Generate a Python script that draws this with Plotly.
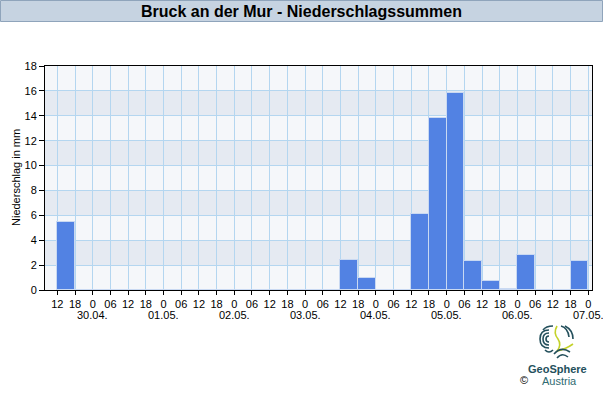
import plotly.graph_objects as go

# ---- data ----
hour_labels = ["12", "18"] + ["0", "06", "12", "18"] * 7 + ["0"]
date_labels = ["30.04.", "01.05.", "02.05.", "03.05.", "04.05.", "05.05.", "06.05.", "07.05."]
precip_mm = [5.5, 0, 0, 0, 0, 0, 0, 0, 0, 0, 0, 0, 0, 0, 0, 0,
             2.4, 0.95, 0, 0, 6.1, 13.8, 15.8, 2.3, 0.7, 0.1, 2.8, 0, 0, 2.3]
y_ticks = list(range(0, 19, 2))
title_text = "Bruck an der Mur - Niederschlagssummen"
y_title = "Niederschlag in mm"

tickvals = list(range(len(hour_labels)))
date_positions = [i for i, lab in enumerate(hour_labels) if lab == "0"]
bar_x = [i + 0.5 for i in range(len(precip_mm))]

W, H = 603, 400
L, R, T, B = 45, 11, 66, 110
pw, ph = W - L - R, H - T - B


def px(x):
    return (x - L) / pw


def py(y):
    return (H - B - y) / ph


FONT = "Liberation Sans, Arial, sans-serif"

fig = go.Figure()
fig.add_trace(go.Bar(
    x=bar_x, y=precip_mm, width=1,
    marker=dict(color="#5282E3", line=dict(color="#C9D9F2", width=1)),
    hoverinfo="y",
))

shapes = []
for lo in (2, 6, 10, 14):
    shapes.append(dict(type="rect", xref="paper", yref="y", x0=0, x1=1, y0=lo, y1=lo + 2,
                       fillcolor="#E5EAF2", line=dict(width=0), layer="below"))
shapes.append(dict(type="rect", xref="paper", yref="paper", x0=px(0.5), x1=px(602.5),
                   y0=py(21.5), y1=py(0.5), fillcolor="#C6D3E1",
                   line=dict(color="#8FA4BB", width=1), layer="above"))


def path_px(points_cmd):
    out = []
    for tok in points_cmd:
        if isinstance(tok, str):
            out.append(tok)
        else:
            out.append(f"{px(tok[0]):.5f},{py(tok[1]):.5f}")
    return " ".join(out)


dark = "#24505C"
lime = "#C4D22A"
logo_paths = [
    (["M", (549, 330), "Q", (540, 330), (540, 339), "Q", (540, 348), (549, 348)], dark),
    (["M", (549, 333), "Q", (543, 333), (543, 339), "Q", (543, 345), (549, 345)], dark),
    (["M", (549, 336), "Q", (546, 336), (546, 339), "Q", (546, 342), (549, 342)], dark),
    (["M", (553, 326), "Q", (546, 326), (543, 330)], dark),
    (["M", (557, 326), "Q", (553, 333), (558, 339), "Q", (562, 345), (557, 351)], lime),
    (["M", (557, 351), "Q", (566, 349), (573, 344)], lime),
    (["M", (561, 326), "Q", (568, 328), (569, 337)], dark),
    (["M", (565, 326), "Q", (573, 330), (573, 339)], dark),
    (["M", (554, 354), "Q", (561, 346), (570, 352)], dark),
    (["M", (557, 358), "Q", (562, 352), (568, 357)], dark),
    (["M", (545, 350), "Q", (549, 354), (553, 350)], dark),
]
for pts, col in logo_paths:
    shapes.append(dict(type="path", xref="paper", yref="paper", path=path_px(pts),
                       line=dict(color=col, width=1.6), layer="above"))

annotations = [
    dict(text="<b>" + title_text + "</b>", x=px(301), y=py(11.5), xref="paper", yref="paper",
         showarrow=False, font=dict(family=FONT, size=16, color="#000000"),
         xanchor="center", yanchor="middle"),
    dict(text=y_title, x=px(16), y=py(178), xref="paper", yref="paper", textangle=-90,
         showarrow=False, font=dict(family=FONT, size=11, color="#000000"),
         xanchor="center", yanchor="middle"),
    dict(text="<b>GeoSphere</b>", x=px(557), y=py(369), xref="paper", yref="paper",
         showarrow=False, font=dict(family=FONT, size=11, color="#24505C"),
         xanchor="center", yanchor="middle"),
    dict(text="Austria", x=px(559), y=py(381), xref="paper", yref="paper",
         showarrow=False, font=dict(family=FONT, size=11, color="#2F6B72"),
         xanchor="center", yanchor="middle"),
    dict(text="©", x=px(524), y=py(380), xref="paper", yref="paper",
         showarrow=False, font=dict(family=FONT, size=11, color="#000000"),
         xanchor="center", yanchor="middle"),
]
for pos, lab in zip(date_positions, date_labels):
    annotations.append(dict(text=lab, x=pos, y=py(315), xref="x", yref="paper",
                            showarrow=False, font=dict(family=FONT, size=11, color="#000000"),
                            xanchor="center", yanchor="middle"))

fig.update_layout(
    width=W, height=H,
    margin=dict(l=L, r=R, t=T, b=B, pad=0),
    paper_bgcolor="#FFFFFF",
    plot_bgcolor="#F5F7FA",
    bargap=0,
    showlegend=False,
    font=dict(family=FONT, size=11, color="#000000"),
    shapes=shapes,
    annotations=annotations,
    xaxis=dict(
        range=[-0.695, 30.21], tickmode="array", tickvals=tickvals, ticktext=hour_labels,
        showgrid=True, gridcolor="#B4D6F0", gridwidth=1,
        showline=True, linecolor="#000000", linewidth=1, mirror=True,
        ticks="outside", ticklen=4, tickcolor="#000000", tickangle=0,
        zeroline=False, fixedrange=True, tickfont=dict(size=11), automargin=False,
    ),
    yaxis=dict(
        range=[0, 18], tickmode="array", tickvals=y_ticks,
        showgrid=True, gridcolor="#B4D6F0", gridwidth=1,
        showline=True, linecolor="#000000", linewidth=1, mirror=True,
        ticks="outside", ticklen=5, tickcolor="#000000",
        zeroline=False, fixedrange=True, tickfont=dict(size=11), automargin=False,
    ),
)

fig.write_html("out.html", config=dict(displayModeBar=False))
